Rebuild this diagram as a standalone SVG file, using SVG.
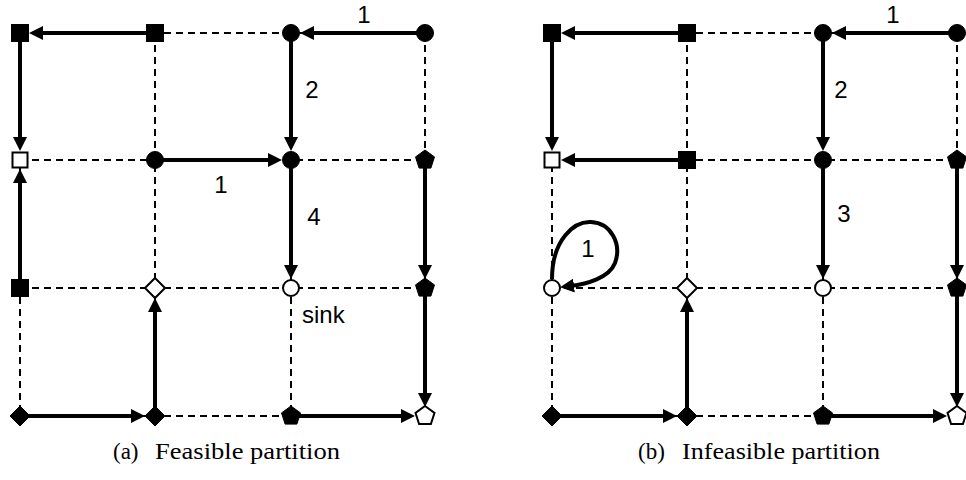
<svg xmlns="http://www.w3.org/2000/svg" xmlns:xlink="http://www.w3.org/1999/xlink" width="966" height="480" viewBox="0 0 966 480">
<style>
.grid{stroke:#000;stroke-width:2;stroke-dasharray:7 5;fill:none}
.e{stroke:#000;stroke-width:4;fill:none;marker-end:url(#ah)}
.f{fill:#000;stroke:#000;stroke-width:1}
.o{fill:#fff;stroke:#000;stroke-width:2}
.lbl{font-family:"Liberation Sans",Arial,sans-serif;font-size:24px;fill:#000}
.cap{font-family:"Liberation Serif","Times New Roman",serif;font-size:23px;fill:#000}
</style>
<defs>
<marker id="ah" markerUnits="userSpaceOnUse" markerWidth="16" markerHeight="14" viewBox="0 0 16 14" refX="4" refY="7" orient="auto">
<path d="M0,0 L14,7 L0,14 z" fill="#000"/>
</marker>
<rect id="sq" x="-8.5" y="-8.5" width="17" height="17"/>
<rect id="sqo" x="-7.5" y="-7.5" width="15" height="15"/>
<circle id="ci" r="8.5"/>
<circle id="cio" r="8"/>
<polygon id="di" points="0,-10 10,0 0,10 -10,0"/>
<polygon id="pe" points="0,-10 9.5,-3.1 5.9,8.1 -5.9,8.1 -9.5,-3.1"/>
</defs>
<rect width="966" height="480" fill="#fff"/>
<g id="grid">
<path class="grid" d="M20,33H425M20,160H425M20,288H425M20,416H425M20,33V416M155,33V416M291,33V416M425,33V416"/>
<path class="grid" d="M552,33H957M552,160H957M552,288H957M552,416H957M552,33V416M687,33V416M823,33V416M957,33V416"/>
</g>
<g id="connectors">
<line class="e" x1="155" y1="33" x2="39" y2="33"/>
<line class="e" x1="20" y1="33" x2="20" y2="141"/>
<line class="e" x1="20" y1="288" x2="20" y2="179"/>
<line class="e" x1="425" y1="33" x2="310" y2="33"/>
<line class="e" x1="291" y1="33" x2="291" y2="141"/>
<line class="e" x1="155" y1="160" x2="272" y2="160"/>
<line class="e" x1="291" y1="160" x2="291" y2="269"/>
<line class="e" x1="425" y1="160" x2="425" y2="269"/>
<line class="e" x1="425" y1="288" x2="425" y2="397"/>
<line class="e" x1="20" y1="416" x2="135" y2="416"/>
<line class="e" x1="155" y1="416" x2="155" y2="308"/>
<line class="e" x1="291" y1="416" x2="405" y2="416"/>
<line class="e" x1="687" y1="33" x2="571" y2="33"/>
<line class="e" x1="552" y1="33" x2="552" y2="141"/>
<line class="e" x1="687" y1="160" x2="571" y2="160"/>
<line class="e" x1="957" y1="33" x2="842" y2="33"/>
<line class="e" x1="823" y1="33" x2="823" y2="141"/>
<line class="e" x1="823" y1="160" x2="823" y2="269"/>
<line class="e" x1="957" y1="160" x2="957" y2="269"/>
<line class="e" x1="957" y1="288" x2="957" y2="397"/>
<line class="e" x1="552" y1="416" x2="667" y2="416"/>
<line class="e" x1="687" y1="416" x2="687" y2="308"/>
<line class="e" x1="823" y1="416" x2="937" y2="416"/>
<path class="e" d="M552,279 C552,240 574,221 591,222 C611,223 622,244 615,263 C609,278 587,284 570,286"/>
</g>
<g id="labels">
<text class="lbl" x="364" y="23" text-anchor="middle">1</text>
<text class="lbl" x="312" y="98" text-anchor="middle">2</text>
<text class="lbl" x="221" y="193" text-anchor="middle">1</text>
<text class="lbl" x="314" y="225" text-anchor="middle">4</text>
<text class="lbl" x="302" y="323">sink</text>
<text class="lbl" x="893" y="23" text-anchor="middle">1</text>
<text class="lbl" x="841" y="98" text-anchor="middle">2</text>
<text class="lbl" x="844" y="222" text-anchor="middle">3</text>
<text class="lbl" x="588" y="257" text-anchor="middle">1</text>
</g>
<g id="a-nodes">
<g id="a00"><use href="#sq" class="f" x="20" y="33"/></g>
<g id="a01"><use href="#sq" class="f" x="155" y="33"/></g>
<g id="a02"><use href="#ci" class="f" x="291" y="33"/></g>
<g id="a03"><use href="#ci" class="f" x="425" y="33"/></g>
<g id="a10"><use href="#sqo" class="o" x="20" y="160"/></g>
<g id="a11"><use href="#ci" class="f" x="155" y="160"/></g>
<g id="a12"><use href="#ci" class="f" x="291" y="160"/></g>
<g id="a13"><use href="#pe" class="f" x="425" y="160"/></g>
<g id="a20"><use href="#sq" class="f" x="20" y="288"/></g>
<g id="a21"><use href="#di" class="o" x="155" y="288"/></g>
<g id="a22"><use href="#cio" class="o" x="291" y="288"/></g>
<g id="a23"><use href="#pe" class="f" x="425" y="288"/></g>
<g id="a30"><use href="#di" class="f" x="20" y="416"/></g>
<g id="a31"><use href="#di" class="f" x="155" y="416"/></g>
<g id="a32"><use href="#pe" class="f" x="291" y="416"/></g>
<g id="a33"><use href="#pe" class="o" x="425" y="416"/></g>
</g>
<g id="b-nodes">
<g id="b00"><use href="#sq" class="f" x="552" y="33"/></g>
<g id="b01"><use href="#sq" class="f" x="687" y="33"/></g>
<g id="b02"><use href="#ci" class="f" x="823" y="33"/></g>
<g id="b03"><use href="#ci" class="f" x="957" y="33"/></g>
<g id="b10"><use href="#sqo" class="o" x="552" y="160"/></g>
<g id="b11"><use href="#sq" class="f" x="687" y="160"/></g>
<g id="b12"><use href="#ci" class="f" x="823" y="160"/></g>
<g id="b13"><use href="#pe" class="f" x="957" y="160"/></g>
<g id="b20"><use href="#cio" class="o" x="552" y="288"/></g>
<g id="b21"><use href="#di" class="o" x="687" y="288"/></g>
<g id="b22"><use href="#cio" class="o" x="823" y="288"/></g>
<g id="b23"><use href="#pe" class="f" x="957" y="288"/></g>
<g id="b30"><use href="#di" class="f" x="552" y="416"/></g>
<g id="b31"><use href="#di" class="f" x="687" y="416"/></g>
<g id="b32"><use href="#pe" class="f" x="823" y="416"/></g>
<g id="b33"><use href="#pe" class="o" x="957" y="416"/></g>
</g>
<g id="captions">
<text class="cap" x="113" y="459">(a)</text>
<text class="cap" x="155" y="459" textLength="185" lengthAdjust="spacingAndGlyphs">Feasible partition</text>
<text class="cap" x="638" y="459">(b)</text>
<text class="cap" x="682" y="459" textLength="198" lengthAdjust="spacingAndGlyphs">Infeasible partition</text>
</g>
</svg>
